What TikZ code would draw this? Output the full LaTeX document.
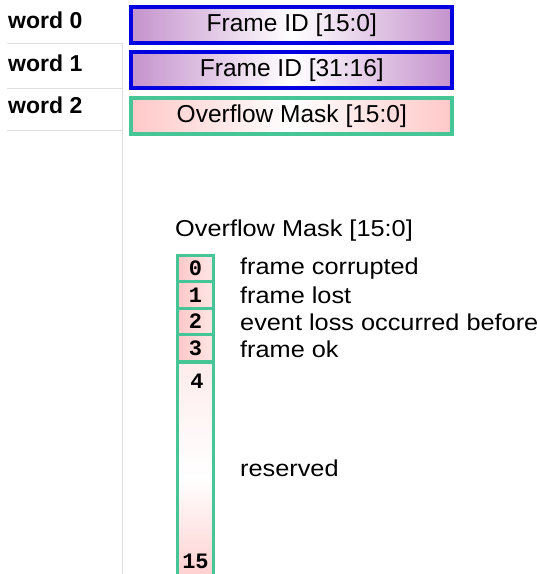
\documentclass[tikz,border=0pt]{standalone}
\usepackage{fontspec}
\setmainfont{Liberation Sans}
\setmonofont{Liberation Mono}
\definecolor{fblue}{RGB}{0,0,225}
\definecolor{fpurple}{RGB}{196,146,204}
\definecolor{mgreen}{RGB}{70,198,150}
\definecolor{mpink}{RGB}{255,200,200}
\definecolor{sepgray}{RGB}{222,222,222}
\newcommand{\widetext}[1]{\scalebox{1.1}[1]{#1}}
\tikzset{
  wordlbl/.style={anchor=west, inner sep=0, font=\fontsize{23}{23}\selectfont\bfseries},
  framebox/.style={draw=fblue, line width=4pt, minimum width=321pt, minimum height=36pt, inner sep=0,
    left color=fpurple, right color=fpurple, middle color=white,
    font=\fontsize{24.5}{24.5}\selectfont},
  maskbox/.style={draw=mgreen, line width=4pt, minimum width=321pt, minimum height=36pt, inner sep=0,
    left color=mpink, right color=mpink, middle color=white,
    font=\fontsize{24.5}{24.5}\selectfont},
  bitbox/.style={draw=mgreen, line width=3pt, minimum width=36pt, minimum height=26.4pt, inner sep=0,
    left color=mpink, right color=mpink!45,
    font=\fontsize{22}{22}\selectfont\ttfamily\bfseries},
  bitnum/.style={inner sep=0, font=\fontsize{22}{22}\selectfont\ttfamily\bfseries},
  desc/.style={anchor=west, inner sep=0, font=\fontsize{23}{23}\selectfont},
  sep/.style={draw=sepgray, line width=1pt}
}
\begin{document}
\begin{tikzpicture}[x=1pt,y=-1pt]
\useasboundingbox (0,0) rectangle (538,574);
\begin{scope}
\clip (0,0) rectangle (538,574);
% left column grid
\coordinate (s0l) at (7,43);   \coordinate (s0r) at (122,43);
\coordinate (s1l) at (7,88);   \coordinate (s1r) at (122,88);
\coordinate (s2l) at (7,130);  \coordinate (s2r) at (122,130);
\coordinate (vb) at (122,574);
\draw[sep] (s0l) -- (s0r);
\draw[sep] (s1l) -- (s1r);
\draw[sep] (s2l) -- (s2r);
\draw[sep] (s0r) -- (vb);

\node[wordlbl] (w0) at (8,20) {word 0};
\node[wordlbl] (w1) at (8,63) {word 1};
\node[wordlbl] (w2) at (8,105) {word 2};

\node[framebox] (f0) at (291.8,25.2) {Frame ID [15:0]};
\node[framebox] (f1) at (291.8,70.3) {Frame ID [31:16]};
\node[maskbox]  (f2) at (291.8,116.2) {Overflow Mask [15:0]};

\node[desc] (mtitle) at (175,231) {\widetext{Overflow Mask [15:0]}};

\node[bitbox] (b0) at (195.5,268.7) {0};
\node[bitbox] (b1) at (195.5,295.1) {1};
\node[bitbox] (b2) at (195.5,321.5) {2};
\node[bitbox] (b3) at (195.5,347.9) {3};
\node[draw=mgreen, line width=3pt, minimum width=36pt, minimum height=230pt, inner sep=0,
      top color=mpink!35, bottom color=mpink, middle color=white, anchor=north] (b4) at (195.5,361.1) {};
\node[bitnum] (n4) at (197,381) {4};
\node[bitnum] (n15) at (195.5,561) {15};

\node[desc] (d0) at (240,268.5) {\widetext{frame corrupted}};
\node[desc] (d1) at (240,295.5) {\widetext{frame lost}};
\node[desc] (d2) at (240,322) {\widetext{event loss occurred before}};
\node[desc] (d3) at (240,349) {\widetext{frame ok}};
\node[desc] (d4) at (240,468) {\widetext{reserved}};
\end{scope}
\end{tikzpicture}
\end{document}
